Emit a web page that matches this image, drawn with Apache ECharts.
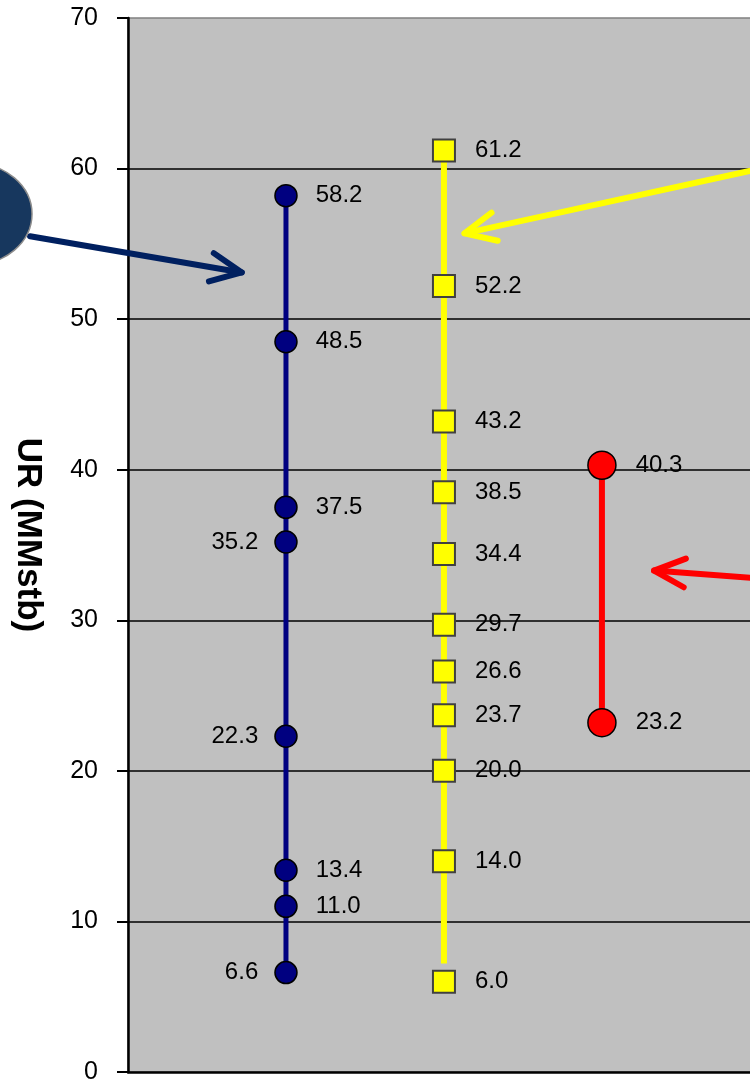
<!DOCTYPE html>
<html>
<head>
<meta charset="utf-8">
<script src="https://cdn.jsdelivr.net/npm/echarts@6/dist/echarts.min.js"></script>
<style>
  html, body { margin: 0; padding: 0; background: #ffffff; }
  #chart { width: 750px; height: 1086px; }
</style>
</head>
<body>
<div id="chart"></div>
<script>
// Column positions on the hidden horizontal value axis
const groupX = [1, 2, 3];

// Ultimate recovery estimates (MMstb) per group
const navyValues = [58.2, 48.5, 37.5, 35.2, 22.3, 13.4, 11.0, 6.6];
const yellowValues = [61.2, 52.2, 43.2, 38.5, 34.4, 29.7, 26.6, 23.7, 20.0, 14.0, 6.0];
const redValues = [40.3, 23.2];

// Vertical range bar drawn behind the yellow squares
const yellowSpan = [61.2, 7.2];

// Values whose labels sit to the left of the marker
const navyLeftLabelled = [35.2, 22.3, 6.6];

// Y axis ticks
const yTicks = [0, 10, 20, 30, 40, 50, 60, 70];

// Annotation arrows in data coordinates: [tail, tip]
const arrows = [
  { color: '#002060', tail: [-0.62, 55.5], tip: [0.72, 53.1] },
  { color: '#FFFF00', tail: [3.96, 59.9], tip: [2.13, 55.7] },
  { color: '#FF0000', tail: [3.96, 32.8], tip: [3.33, 33.3] }
];

const FONT = '"Liberation Sans", Arial, sans-serif';

const chart = echarts.init(document.getElementById('chart'), null, { renderer: 'canvas' });

function labelStyle(pos, dist) {
  return { show: true, position: pos, distance: dist, color: '#000', fontSize: 24, fontFamily: FONT,
           formatter: p => p.value[1].toFixed(1) };
}

const option = {
  animation: false,
  backgroundColor: '#ffffff',
  grid: {
    left: 128, right: -2, top: 18, bottom: 14,
    outerBoundsMode: 'none', containLabel: false,
    show: true, backgroundColor: '#C0C0C0', borderColor: '#808080', borderWidth: 1.5
  },
  xAxis: {
    type: 'value', min: 0, max: 3.95,
    axisLine: { show: true, onZero: false, lineStyle: { color: '#000', width: 2.5 } },
    axisTick: { show: false }, axisLabel: { show: false }, splitLine: { show: false }
  },
  yAxis: {
    type: 'value', min: yTicks[0], max: yTicks[yTicks.length - 1], interval: 10,
    name: 'UR (MMstb)', nameLocation: 'middle', nameRotate: -90, nameGap: 83,
    nameTextStyle: { fontSize: 35, fontWeight: 'bold', color: '#000', fontFamily: FONT, padding: [0, 20, 0, 0] },
    axisLine: { show: true, lineStyle: { color: '#000', width: 2.5 } },
    axisTick: { show: true, inside: false, length: 11, lineStyle: { color: '#000', width: 2 } },
    axisLabel: { color: '#000', fontSize: 25, fontFamily: FONT, margin: 30 },
    splitLine: { show: true, showMinLine: false, showMaxLine: false, lineStyle: { color: '#000', width: 1.5 } }
  },
  series: [
    {
      type: 'line', name: 'navy', z: 3,
      data: navyValues.map(v => ({
        value: [groupX[0], v],
        label: navyLeftLabelled.includes(v) ? labelStyle('left', 16) : labelStyle('right', 18),
      })),
      symbol: 'circle', symbolSize: 22,
      lineStyle: { color: '#000080', width: 5 },
      itemStyle: { color: '#000080', borderColor: '#000', borderWidth: 1.5 },
      label: labelStyle('right', 18)
    },
    {
      type: 'line', name: 'yellowSpan', z: 2,
      data: yellowSpan.map(v => [groupX[1], v]),
      symbol: 'none',
      lineStyle: { color: '#FFFF00', width: 6 }
    },
    {
      type: 'scatter', name: 'yellow', z: 4,
      data: yellowValues.map(v => [groupX[1], v]),
      symbol: 'rect', symbolSize: 22,
      itemStyle: { color: '#FFFF00', borderColor: '#404040', borderWidth: 2, opacity: 1 },
      label: labelStyle('right', 19)
    },
    {
      type: 'line', name: 'red', z: 3,
      data: redValues.map(v => [groupX[2], v]),
      symbol: 'circle', symbolSize: 28,
      lineStyle: { color: '#FF0000', width: 6 },
      itemStyle: { color: '#FF0000', borderColor: '#000', borderWidth: 1.5 },
      label: labelStyle('right', 19)
    }
  ]
};

chart.setOption(option);

// Callout ellipse and arrows drawn on top of the plot
function arrowGraphics() {
  const els = [];
  els.push({
    type: 'ellipse', z: 100,
    shape: { cx: -28, cy: 214, rx: 60, ry: 51 },
    style: { fill: '#17375E', stroke: '#8C8C8C', lineWidth: 1.5 }
  });
  arrows.forEach(a => {
    const t = chart.convertToPixel({ gridIndex: 0 }, a.tail);
    const h = chart.convertToPixel({ gridIndex: 0 }, a.tip);
    const ang = Math.atan2(t[1] - h[1], t[0] - h[0]);
    const len = 34, spread = 25 * Math.PI / 180;
    const b1 = [h[0] + len * Math.cos(ang + spread), h[1] + len * Math.sin(ang + spread)];
    const b2 = [h[0] + len * Math.cos(ang - spread), h[1] + len * Math.sin(ang - spread)];
    const style = { stroke: a.color, lineWidth: 6, lineCap: 'round', lineJoin: 'round', fill: null };
    els.push({ type: 'line', z: 99, shape: { x1: t[0], y1: t[1], x2: h[0], y2: h[1] }, style });
    els.push({ type: 'polyline', z: 99, shape: { points: [b1, h, b2] }, style });
  });
  return els;
}

chart.setOption({ graphic: { elements: arrowGraphics() } });
</script>
</body>
</html>
